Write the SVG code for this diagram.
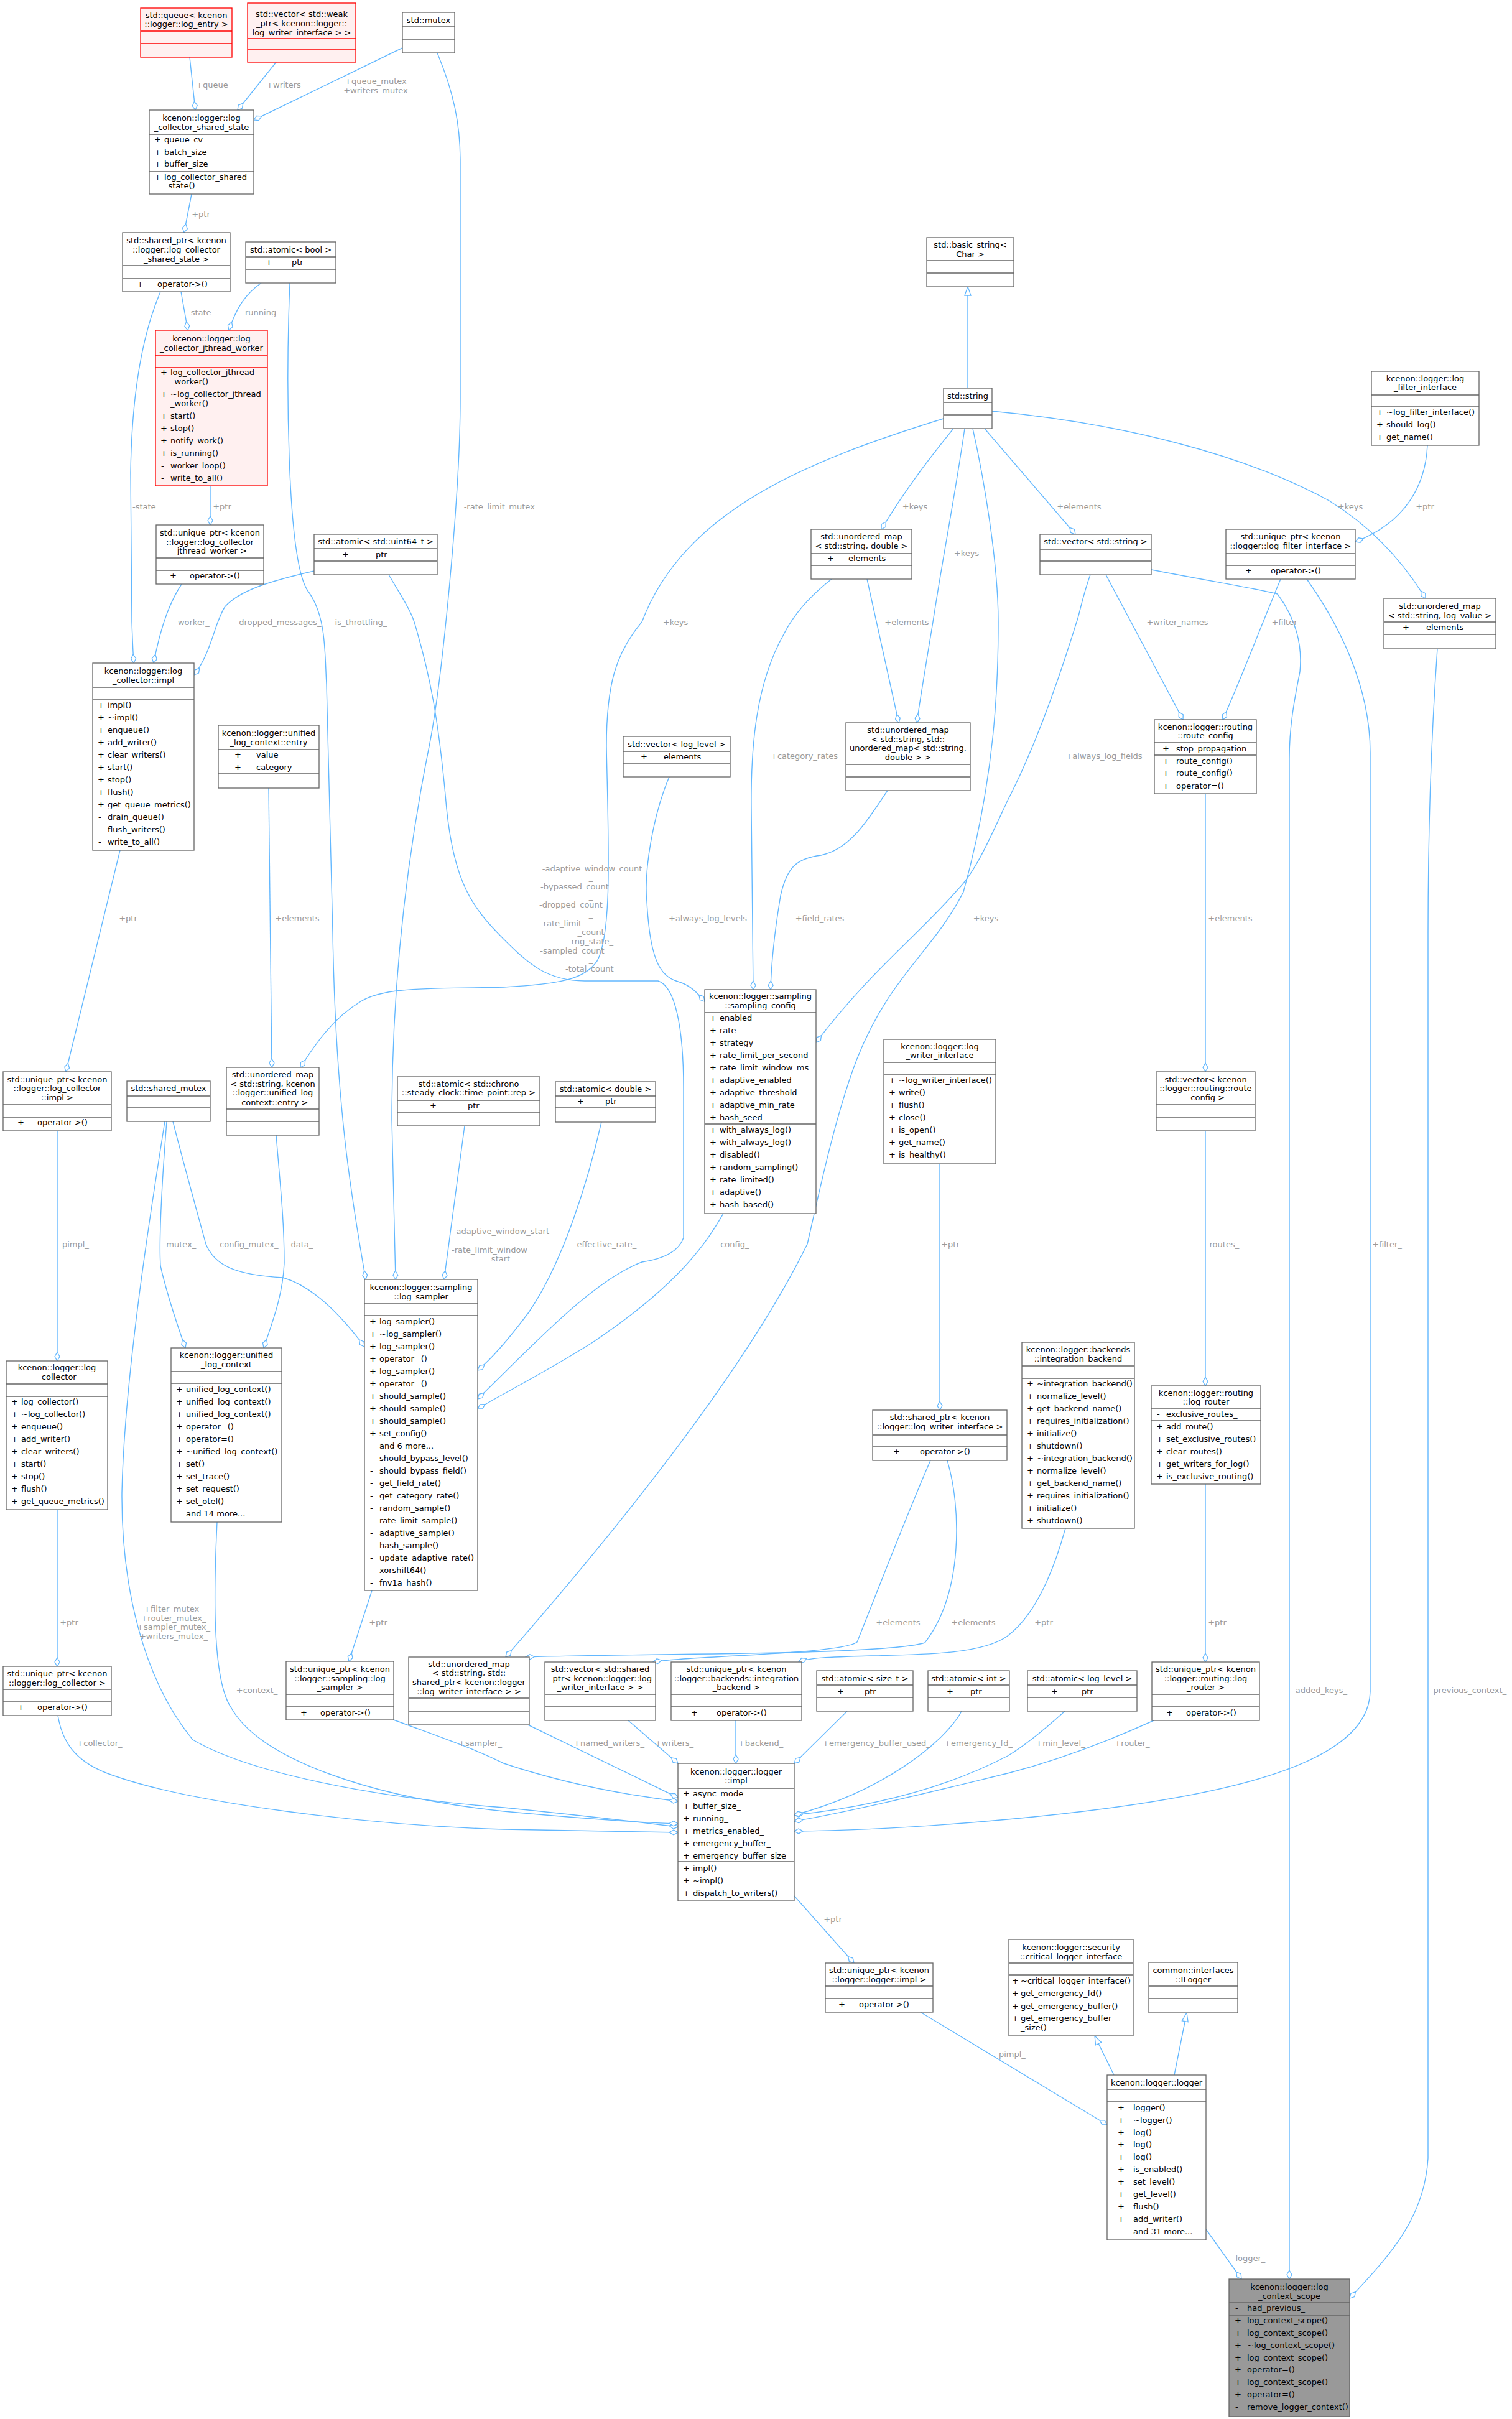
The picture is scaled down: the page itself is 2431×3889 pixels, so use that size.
<svg xmlns="http://www.w3.org/2000/svg" width="2431" height="3889" viewBox="0 0 2431 3889">
<style>
text{font-family:"DejaVu Sans","Liberation Sans",sans-serif;font-size:13px;fill:#000}
.c{text-anchor:middle}
.l{fill:#9a9a9a;text-anchor:middle}
rect{fill:#fff;stroke:#666;stroke-width:1.3}
rect.r{fill:#fff0f0;stroke:#f00}
rect.g{fill:#999}
.dv{stroke:#666;stroke-width:1.3}
.dr{stroke:#f00;stroke-width:1.3}
#edges path{fill:none;stroke:#63b8ff;stroke-width:1.4}
.a{marker-end:url(#dm)}
.i{marker-end:url(#tr)}
</style>
<defs>
<marker id="dm" markerWidth="18" markerHeight="12" refX="15" refY="6" orient="auto" markerUnits="userSpaceOnUse"><path d="M1,6 L8,2 L15,6 L8,10 Z" fill="#fff" stroke="#63b8ff" stroke-width="1.3"/></marker>
<marker id="tr" markerWidth="18" markerHeight="12" refX="15" refY="6" orient="auto" markerUnits="userSpaceOnUse"><path d="M1,1 L15,6 L1,11 Z" fill="#fff" stroke="#63b8ff" stroke-width="1.3"/></marker>
</defs>
<rect x="0" y="0" width="2431" height="3889" style="fill:#fff;stroke:none"/>
<g id="edges">
<path class="a" d="M305,92 L314,177"/>
<path class="a" d="M444,100 L382,177"/>
<path class="a" d="M647,77 L408,193"/>
<path class="a" d="M308,312 L296,374"/>
<path class="a" d="M291,469 L302,531"/>
<path class="a" d="M420,455 C395,472 380,495 368,531"/>
<path class="a" d="M338,781 L338,844"/>
<path class="a" d="M258,469 C232,530 212,620 210,760 L212,1000 C213,1030 214,1050 215,1066"/>
<path class="a" d="M292,939 C275,965 260,1000 247,1066"/>
<path class="a" d="M505,918 C430,935 385,950 362,975 C345,1000 340,1050 312,1085"/>
<path class="a" d="M466,455 C460,600 460,900 495,950 C525,990 522,1050 525,1100 L535,1500 C540,1800 570,1950 588,2057"/>
<path class="a" d="M703,85 C730,150 740,200 740,260 L740,640 C740,800 710,1100 690,1200 C650,1400 630,1600 630,1800 L636,2057"/>
<path class="a" d="M625,924 C640,950 660,980 666,1000 C690,1080 705,1150 718,1300 C730,1420 760,1460 810,1510 C850,1550 880,1577 940,1577 L1058,1577 C1085,1585 1099,1650 1099,1750 L1099,1990 C1090,2015 1060,2025 1032,2029 C950,2060 850,2170 768,2249"/>
<path class="a" d="M1517,673 C1300,740 1100,820 1032,1000 C990,1050 975,1100 975,1200 C978,1350 985,1500 960,1545 C940,1575 900,1582 810,1587 C700,1590 620,1585 580,1610 C530,1640 500,1690 483,1716"/>
<path class="a" d="M193,1367 L106,1723"/>
<path class="a" d="M432,1267 L437,1716"/>
<path class="a" d="M1533,689 C1500,730 1460,780 1417,851"/>
<path class="a" d="M1551,689 C1535,800 1515,900 1500,1000 C1490,1060 1480,1120 1474,1162"/>
<path class="a" d="M1394,931 L1445,1162"/>
<path class="a" d="M1337,931 C1300,960 1275,990 1260,1020 C1215,1100 1207,1200 1208,1300 L1211,1591"/>
<path class="a" d="M1427,1271 C1400,1310 1370,1365 1320,1375 C1280,1380 1265,1395 1255,1440 C1245,1500 1240,1550 1239,1591"/>
<path class="a" d="M1076,1249 C1050,1310 1035,1400 1040,1450 C1045,1540 1060,1570 1090,1578 C1110,1584 1120,1595 1133,1610"/>
<path class="a" d="M1753,924 C1740,960 1735,990 1731,1000 C1700,1100 1660,1210 1620,1287 C1595,1340 1570,1400 1540,1430 C1480,1500 1400,1560 1312,1676"/>
<path class="a" d="M1583,689 L1729,859"/>
<path class="a" d="M1595,661 C1800,680 2000,730 2137,805 C2210,850 2260,910 2292,962"/>
<path class="a" d="M2295,716 C2292,780 2260,840 2179,871"/>
<path class="a" d="M1778,924 L1902,1157"/>
<path class="a" d="M2059,931 C2030,1000 2000,1080 1966,1157"/>
<path class="a" d="M1851,916 C1950,935 2040,950 2054,955 C2080,990 2095,1030 2090,1080 C2080,1130 2073,1170 2073,1220 L2073,3664"/>
<path class="a" d="M2101,931 C2150,1000 2203,1100 2203,1210 L2203,2720 C2200,2830 2000,2890 1620,2925 C1480,2938 1380,2943 1277,2944"/>
<path class="a" d="M2311,1043 C2300,1200 2296,1350 2296,1500 L2296,3470 C2290,3570 2230,3630 2170,3695"/>
<path class="a" d="M1938,1276 L1938,1723"/>
<path class="a" d="M1938,1818 L1938,2228"/>
<path class="a" d="M1938,2386 L1938,2672"/>
<path class="a" d="M1855,2766 C1780,2800 1700,2830 1620,2851 C1500,2880 1380,2910 1277,2928"/>
<path class="a" d="M1712,2751 C1680,2780 1650,2805 1620,2823 C1520,2875 1400,2905 1277,2918"/>
<path class="a" d="M1713,2457 C1690,2540 1660,2600 1620,2630 C1580,2660 1480,2660 1400,2662 C1330,2664 1300,2665 1284,2672"/>
<path class="a" d="M1511,1871 L1511,2267"/>
<path class="a" d="M1496,2348 C1460,2430 1410,2560 1378,2640 C1350,2660 1100,2662 1050,2672"/>
<path class="a" d="M1523,2348 C1545,2420 1550,2560 1487,2641 C1420,2662 1000,2658 845,2664"/>
<path class="a" d="M1564,689 C1580,760 1605,900 1605,1000 C1605,1100 1600,1250 1549,1434 C1500,1530 1430,1570 1378,1702 C1340,1800 1310,1950 1298,2000 C1200,2200 1000,2450 813,2664"/>
<path class="a" d="M92,1818 L92,2188"/>
<path class="a" d="M92,2427 L92,2679"/>
<path class="a" d="M93,2758 C100,2800 120,2830 170,2850 C300,2900 600,2935 810,2941 L1090,2946"/>
<path class="a" d="M278,1803 C295,1870 320,1960 331,2000 C345,2035 380,2050 455,2054 C510,2070 560,2130 586,2165"/>
<path class="a" d="M268,1803 C262,1880 255,1980 258,2035 C268,2080 285,2130 298,2167"/>
<path class="a" d="M265,1803 C250,1900 200,2200 196,2400 C195,2550 230,2700 310,2797 C400,2850 600,2890 810,2906 C950,2920 1030,2930 1090,2937"/>
<path class="a" d="M444,1825 C450,1900 457,1960 457,2030 C455,2080 440,2120 424,2167"/>
<path class="a" d="M349,2447 C344,2550 340,2700 372,2746 C420,2830 600,2890 810,2912 C950,2925 1030,2930 1090,2932"/>
<path class="a" d="M747,1810 L714,2057"/>
<path class="a" d="M967,1804 C945,1900 905,2030 850,2110 C820,2150 790,2185 768,2203"/>
<path class="a" d="M1163,1951 C1140,1990 1100,2060 950,2160 C870,2210 800,2245 768,2265"/>
<path class="a" d="M598,2557 L561,2671"/>
<path class="a" d="M633,2765 C700,2790 760,2810 810,2835 C900,2865 1000,2885 1090,2896"/>
<path class="a" d="M849,2773 L1090,2890"/>
<path class="a" d="M1010,2766 L1090,2835"/>
<path class="a" d="M1183,2766 L1183,2835"/>
<path class="a" d="M1362,2751 L1277,2835"/>
<path class="a" d="M1546,2751 C1520,2800 1420,2880 1277,2918"/>
<path class="a" d="M1277,3048 L1373,3156"/>
<path class="a" d="M1480,3235 L1780,3416"/>
<path class="a" d="M1939,3584 L1996,3664"/>
<path class="i" d="M1791,3336 L1760,3273"/>
<path class="i" d="M1888,3336 L1908,3236"/>
<path class="i" d="M1556,624 L1556,461"/>
</g>
<g id="labels">
<text class="l" x="341" y="141">+queue</text>
<text class="l" x="456" y="141">+writers</text>
<text class="l" x="604" y="135">+queue_mutex</text>
<text class="l" x="604" y="150">+writers_mutex</text>
<text class="l" x="323" y="349">+ptr</text>
<text class="l" x="324" y="507">-state_</text>
<text class="l" x="420" y="507">-running_</text>
<text class="l" x="357" y="819">+ptr</text>
<text class="l" x="235" y="819">-state_</text>
<text class="l" x="806" y="819">-rate_limit_mutex_</text>
<text class="l" x="309" y="1005">-worker_</text>
<text class="l" x="448" y="1005">-dropped_messages_</text>
<text class="l" x="578" y="1005">-is_throttling_</text>
<text class="l" x="1086" y="1005">+keys</text>
<text class="l" x="1458" y="1005">+elements</text>
<text class="l" x="1471" y="819">+keys</text>
<text class="l" x="1554" y="894">+keys</text>
<text class="l" x="1735" y="819">+elements</text>
<text class="l" x="2171" y="819">+keys</text>
<text class="l" x="2291" y="819">+ptr</text>
<text class="l" x="1893" y="1005">+writer_names</text>
<text class="l" x="2065" y="1005">+filter</text>
<text class="l" x="1293" y="1220">+category_rates</text>
<text class="l" x="1775" y="1220">+always_log_fields</text>
<text class="l" x="206" y="1481">+ptr</text>
<text class="l" x="478" y="1481">+elements</text>
<text class="l" x="952" y="1401">-adaptive_window_count</text>
<text class="l" x="950" y="1415">_</text>
<text class="l" x="924" y="1430">-bypassed_count</text>
<text class="l" x="950" y="1445">_</text>
<text class="l" x="918" y="1459">-dropped_count</text>
<text class="l" x="950" y="1474">_</text>
<text class="l" x="902" y="1489">-rate_limit</text>
<text class="l" x="950" y="1503">_count</text>
<text class="l" x="950" y="1518">-rng_state_</text>
<text class="l" x="920" y="1533">-sampled_count</text>
<text class="l" x="950" y="1547">_</text>
<text class="l" x="951" y="1562">-total_count_</text>
<text class="l" x="1138" y="1481">+always_log_levels</text>
<text class="l" x="1318" y="1481">+field_rates</text>
<text class="l" x="1585" y="1481">+keys</text>
<text class="l" x="1978" y="1481">+elements</text>
<text class="l" x="806" y="1984">-adaptive_window_start</text>
<text class="l" x="806" y="1999">_</text>
<text class="l" x="787" y="2014">-rate_limit_window</text>
<text class="l" x="805" y="2028">_start_</text>
<text class="l" x="119" y="2005">-pimpl_</text>
<text class="l" x="289" y="2005">-mutex_</text>
<text class="l" x="398" y="2005">-config_mutex_</text>
<text class="l" x="483" y="2005">-data_</text>
<text class="l" x="973" y="2005">-effective_rate_</text>
<text class="l" x="1179" y="2005">-config_</text>
<text class="l" x="1528" y="2005">+ptr</text>
<text class="l" x="1966" y="2005">-routes_</text>
<text class="l" x="2230" y="2005">+filter_</text>
<text class="l" x="279" y="2591">+filter_mutex_</text>
<text class="l" x="279" y="2606">+router_mutex_</text>
<text class="l" x="279" y="2620">+sampler_mutex_</text>
<text class="l" x="279" y="2635">+writers_mutex_</text>
<text class="l" x="111" y="2613">+ptr</text>
<text class="l" x="608" y="2613">+ptr</text>
<text class="l" x="1444" y="2613">+elements</text>
<text class="l" x="1565" y="2613">+elements</text>
<text class="l" x="1678" y="2613">+ptr</text>
<text class="l" x="1957" y="2613">+ptr</text>
<text class="l" x="413" y="2722">+context_</text>
<text class="l" x="2122" y="2722">-added_keys_</text>
<text class="l" x="2361" y="2722">-previous_context_</text>
<text class="l" x="160" y="2807">+collector_</text>
<text class="l" x="772" y="2807">+sampler_</text>
<text class="l" x="979" y="2807">+named_writers_</text>
<text class="l" x="1084" y="2807">+writers_</text>
<text class="l" x="1223" y="2807">+backend_</text>
<text class="l" x="1409" y="2807">+emergency_buffer_used_</text>
<text class="l" x="1573" y="2807">+emergency_fd_</text>
<text class="l" x="1705" y="2807">+min_level_</text>
<text class="l" x="1820" y="2807">+router_</text>
<text class="l" x="1339" y="3090">+ptr</text>
<text class="l" x="1625" y="3307">-pimpl_</text>
<text class="l" x="2008" y="3635">-logger_</text>
</g>
<g id="n_queue"><rect class="r" x="226" y="13" width="147" height="79"/><text class="c" x="299.5" y="29">std::queue&lt; kcenon</text><text class="c" x="299.5" y="43">::logger::log_entry &gt;</text><path class="dr" d="M226,50H373M226,70H373"/></g>
<g id="n_vecweak"><rect class="r" x="398" y="5" width="174" height="95"/><text class="c" x="485" y="27">std::vector&lt; std::weak</text><text class="c" x="485" y="42">_ptr&lt; kcenon::logger::</text><text class="c" x="485" y="57">log_writer_interface &gt; &gt;</text><path class="dr" d="M398,62H572M398,80H572"/></g>
<g id="n_mutex"><rect x="647" y="20" width="84" height="65"/><text class="c" x="689" y="37">std::mutex</text><path class="dv" d="M647,43H731M647,63H731"/></g>
<g id="n_shared_state"><rect x="240" y="177" width="168" height="135"/><text class="c" x="324" y="194">kcenon::logger::log</text><text class="c" x="324" y="209">_collector_shared_state</text><path class="dv" d="M240,216H408M240,276H408"/><text x="248" y="229">+</text><text x="264" y="229">queue_cv</text><text x="248" y="249">+</text><text x="264" y="249">batch_size</text><text x="248" y="268">+</text><text x="264" y="268">buffer_size</text><text x="248" y="289">+</text><text x="264" y="289">log_collector_shared</text><text x="264" y="303">_state()</text></g>
<g id="n_sp_state"><rect x="197" y="374" width="173" height="95"/><text class="c" x="283.5" y="391">std::shared_ptr&lt; kcenon</text><text class="c" x="283.5" y="406">::logger::log_collector</text><text class="c" x="283.5" y="421">_shared_state &gt;</text><path class="dv" d="M197,427H370M197,448H370"/><text x="220" y="461">+</text><text x="253" y="461">operator-&gt;()</text></g>
<g id="n_atomic_bool"><rect x="395" y="389" width="145" height="66"/><text class="c" x="467.5" y="406">std::atomic&lt; bool &gt;</text><path class="dv" d="M395,413H540M395,433H540"/><text x="427" y="426">+</text><text x="469" y="426">ptr</text></g>
<g id="n_jthread"><rect class="r" x="250" y="531" width="180" height="250"/><text class="c" x="340" y="549">kcenon::logger::log</text><text class="c" x="340" y="564">_collector_jthread_worker</text><path class="dr" d="M250,571H430M250,591H430"/><text x="258" y="603">+</text><text x="274" y="603">log_collector_jthread</text><text x="274" y="618">_worker()</text><text x="258" y="638">+</text><text x="274" y="638">~log_collector_jthread</text><text x="274" y="653">_worker()</text><text x="258" y="673">+</text><text x="274" y="673">start()</text><text x="258" y="693">+</text><text x="274" y="693">stop()</text><text x="258" y="713">+</text><text x="274" y="713">notify_work()</text><text x="258" y="733">+</text><text x="274" y="733">is_running()</text><text x="259" y="753">-</text><text x="274" y="753">worker_loop()</text><text x="259" y="773">-</text><text x="274" y="773">write_to_all()</text></g>
<g id="n_up_jthread"><rect x="251" y="844" width="173" height="95"/><text class="c" x="337.5" y="861">std::unique_ptr&lt; kcenon</text><text class="c" x="337.5" y="876">::logger::log_collector</text><text class="c" x="337.5" y="890">_jthread_worker &gt;</text><path class="dv" d="M251,897H424M251,917H424"/><text x="273" y="930">+</text><text x="305" y="930">operator-&gt;()</text></g>
<g id="n_atomic_u64"><rect x="505" y="859" width="198" height="65"/><text class="c" x="604" y="875">std::atomic&lt; std::uint64_t &gt;</text><path class="dv" d="M505,882H703M505,902H703"/><text x="550" y="896">+</text><text x="604" y="896">ptr</text></g>
<g id="n_lc_impl"><rect x="149" y="1066" width="163" height="301"/><text class="c" x="230.5" y="1083">kcenon::logger::log</text><text class="c" x="230.5" y="1098">_collector::impl</text><path class="dv" d="M149,1105H312M149,1125H312"/>
<text x="157" y="1138">+</text><text x="173" y="1138">impl()</text><text x="157" y="1158">+</text><text x="173" y="1158">~impl()</text><text x="157" y="1178">+</text><text x="173" y="1178">enqueue()</text><text x="157" y="1198">+</text><text x="173" y="1198">add_writer()</text><text x="157" y="1218">+</text><text x="173" y="1218">clear_writers()</text><text x="157" y="1238">+</text><text x="173" y="1238">start()</text><text x="157" y="1258">+</text><text x="173" y="1258">stop()</text><text x="157" y="1278">+</text><text x="173" y="1278">flush()</text><text x="157" y="1298">+</text><text x="173" y="1298">get_queue_metrics()</text><text x="158" y="1318">-</text><text x="173" y="1318">drain_queue()</text><text x="158" y="1338">-</text><text x="173" y="1338">flush_writers()</text><text x="158" y="1358">-</text><text x="173" y="1358">write_to_all()</text></g>
<g id="n_entry"><rect x="351" y="1166" width="162" height="101"/><text class="c" x="432" y="1183">kcenon::logger::unified</text><text class="c" x="432" y="1198">_log_context::entry</text><path class="dv" d="M351,1205H513M351,1244H513"/><text x="377" y="1218">+</text><text x="412" y="1218">value</text><text x="377" y="1238">+</text><text x="412" y="1238">category</text></g>
<g id="n_up_lcimpl"><rect x="5" y="1723" width="174" height="95"/><text class="c" x="92" y="1740">std::unique_ptr&lt; kcenon</text><text class="c" x="92" y="1754">::logger::log_collector</text><text class="c" x="92" y="1769">::impl &gt;</text><path class="dv" d="M5,1776H179M5,1796H179"/><text x="28" y="1809">+</text><text x="60" y="1809">operator-&gt;()</text></g>
<g id="n_shared_mutex"><rect x="204" y="1738" width="134" height="65"/><text class="c" x="271" y="1754">std::shared_mutex</text><path class="dv" d="M204,1762H338M204,1781H338"/></g>
<g id="n_map_entry"><rect x="364" y="1716" width="149" height="109"/><text class="c" x="438.5" y="1732">std::unordered_map</text><text class="c" x="438.5" y="1747">&lt; std::string, kcenon</text><text class="c" x="438.5" y="1761">::logger::unified_log</text><text class="c" x="438.5" y="1777">_context::entry &gt;</text><path class="dv" d="M364,1783H513M364,1803H513"/></g>
<g id="n_atomic_chrono"><rect x="639" y="1731" width="229" height="79"/><text class="c" x="753.5" y="1747">std::atomic&lt; std::chrono</text><text class="c" x="753.5" y="1761">::steady_clock::time_point::rep &gt;</text><path class="dv" d="M639,1769H868M639,1788H868"/><text x="691" y="1782">+</text><text x="752" y="1782">ptr</text></g>
<g id="n_vec_level"><rect x="1002" y="1184" width="172" height="65"/><text class="c" x="1088" y="1201">std::vector&lt; log_level &gt;</text><path class="dv" d="M1002,1208H1174M1002,1228H1174"/><text x="1030" y="1221">+</text><text x="1067" y="1221">elements</text></g>
<g id="n_map_map"><rect x="1360" y="1162" width="200" height="109"/><text class="c" x="1460" y="1178">std::unordered_map</text><text class="c" x="1460" y="1193">&lt; std::string, std::</text><text class="c" x="1460" y="1207">unordered_map&lt; std::string,</text><text class="c" x="1460" y="1222">double &gt; &gt;</text><path class="dv" d="M1360,1229H1560M1360,1249H1560"/></g>
<g id="n_sampling_config"><rect x="1133" y="1591" width="179" height="360"/><text class="c" x="1222.5" y="1606">kcenon::logger::sampling</text><text class="c" x="1222.5" y="1621">::sampling_config</text><path class="dv" d="M1133,1628H1312M1133,1807H1312"/>
<text x="1141" y="1641">+</text><text x="1157" y="1641">enabled</text><text x="1141" y="1661">+</text><text x="1157" y="1661">rate</text><text x="1141" y="1681">+</text><text x="1157" y="1681">strategy</text><text x="1141" y="1701">+</text><text x="1157" y="1701">rate_limit_per_second</text><text x="1141" y="1721">+</text><text x="1157" y="1721">rate_limit_window_ms</text><text x="1141" y="1741">+</text><text x="1157" y="1741">adaptive_enabled</text><text x="1141" y="1761">+</text><text x="1157" y="1761">adaptive_threshold</text><text x="1141" y="1781">+</text><text x="1157" y="1781">adaptive_min_rate</text><text x="1141" y="1801">+</text><text x="1157" y="1801">hash_seed</text>
<text x="1141" y="1821">+</text><text x="1157" y="1821">with_always_log()</text><text x="1141" y="1841">+</text><text x="1157" y="1841">with_always_log()</text><text x="1141" y="1861">+</text><text x="1157" y="1861">disabled()</text><text x="1141" y="1881">+</text><text x="1157" y="1881">random_sampling()</text><text x="1141" y="1901">+</text><text x="1157" y="1901">rate_limited()</text><text x="1141" y="1921">+</text><text x="1157" y="1921">adaptive()</text><text x="1141" y="1941">+</text><text x="1157" y="1941">hash_based()</text></g>
<g id="n_atomic_double"><rect x="893" y="1739" width="161" height="65"/><text class="c" x="973.5" y="1755">std::atomic&lt; double &gt;</text><path class="dv" d="M893,1762H1054M893,1781H1054"/><text x="928" y="1775">+</text><text x="973" y="1775">ptr</text></g>
<g id="n_writer_if"><rect x="1421" y="1671" width="180" height="200"/><text class="c" x="1511" y="1687">kcenon::logger::log</text><text class="c" x="1511" y="1701">_writer_interface</text><path class="dv" d="M1421,1708H1601M1421,1727H1601"/>
<text x="1429" y="1741">+</text><text x="1445" y="1741">~log_writer_interface()</text><text x="1429" y="1761">+</text><text x="1445" y="1761">write()</text><text x="1429" y="1781">+</text><text x="1445" y="1781">flush()</text><text x="1429" y="1801">+</text><text x="1445" y="1801">close()</text><text x="1429" y="1821">+</text><text x="1445" y="1821">is_open()</text><text x="1429" y="1841">+</text><text x="1445" y="1841">get_name()</text><text x="1429" y="1861">+</text><text x="1445" y="1861">is_healthy()</text></g>
<g id="n_basic_string"><rect x="1490" y="382" width="140" height="79"/><text class="c" x="1560" y="398">std::basic_string&lt;</text><text class="c" x="1560" y="413">Char &gt;</text><path class="dv" d="M1490,419H1630M1490,439H1630"/></g>
<g id="n_string"><rect x="1517" y="624" width="78" height="65"/><text class="c" x="1556" y="641">std::string</text><path class="dv" d="M1517,647H1595M1517,667H1595"/></g>
<g id="n_map_double"><rect x="1304" y="851" width="162" height="80"/><text class="c" x="1385" y="867">std::unordered_map</text><text class="c" x="1385" y="882">&lt; std::string, double &gt;</text><path class="dv" d="M1304,890H1466M1304,909H1466"/><text x="1330" y="902">+</text><text x="1364" y="902">elements</text></g>
<g id="n_filter_if"><rect x="2205" y="597" width="173" height="119"/><text class="c" x="2291.5" y="613">kcenon::logger::log</text><text class="c" x="2291.5" y="627">_filter_interface</text><path class="dv" d="M2205,635H2378M2205,654H2378"/><text x="2213" y="667">+</text><text x="2229" y="667">~log_filter_interface()</text><text x="2213" y="687">+</text><text x="2229" y="687">should_log()</text><text x="2213" y="707">+</text><text x="2229" y="707">get_name()</text></g>
<g id="n_vec_string"><rect x="1672" y="859" width="179" height="65"/><text class="c" x="1761.5" y="875">std::vector&lt; std::string &gt;</text><path class="dv" d="M1672,883H1851M1672,902H1851"/></g>
<g id="n_up_filter"><rect x="1971" y="851" width="208" height="80"/><text class="c" x="2075" y="867">std::unique_ptr&lt; kcenon</text><text class="c" x="2075" y="882">::logger::log_filter_interface &gt;</text><path class="dv" d="M1971,890H2179M1971,909H2179"/><text x="2002" y="922">+</text><text x="2043" y="922">operator-&gt;()</text></g>
<g id="n_map_logvalue"><rect x="2225" y="962" width="180" height="81"/><text class="c" x="2315" y="979">std::unordered_map</text><text class="c" x="2315" y="994">&lt; std::string, log_value &gt;</text><path class="dv" d="M2225,1000H2405M2225,1020H2405"/><text x="2255" y="1013">+</text><text x="2293" y="1013">elements</text></g>
<g id="n_route_config"><rect x="1856" y="1157" width="164" height="119"/><text class="c" x="1938" y="1173">kcenon::logger::routing</text><text class="c" x="1938" y="1187">::route_config</text><path class="dv" d="M1856,1194H2020M1856,1214H2020"/><text x="1869" y="1208">+</text><text x="1891" y="1208">stop_propagation</text><text x="1869" y="1228">+</text><text x="1891" y="1228">route_config()</text><text x="1869" y="1247">+</text><text x="1891" y="1247">route_config()</text><text x="1869" y="1268">+</text><text x="1891" y="1268">operator=()</text></g>
<g id="n_vec_route"><rect x="1859" y="1723" width="159" height="95"/><text class="c" x="1938.5" y="1740">std::vector&lt; kcenon</text><text class="c" x="1938.5" y="1754">::logger::routing::route</text><text class="c" x="1938.5" y="1769">_config &gt;</text><path class="dv" d="M1859,1776H2018M1859,1796H2018"/></g>
<g id="n_log_collector"><rect x="10" y="2188" width="163" height="239"/><text class="c" x="91.5" y="2203">kcenon::logger::log</text><text class="c" x="91.5" y="2218">_collector</text><path class="dv" d="M10,2225H173M10,2245H173"/>
<text x="18" y="2258">+</text><text x="34" y="2258">log_collector()</text><text x="18" y="2278">+</text><text x="34" y="2278">~log_collector()</text><text x="18" y="2298">+</text><text x="34" y="2298">enqueue()</text><text x="18" y="2318">+</text><text x="34" y="2318">add_writer()</text><text x="18" y="2338">+</text><text x="34" y="2338">clear_writers()</text><text x="18" y="2358">+</text><text x="34" y="2358">start()</text><text x="18" y="2378">+</text><text x="34" y="2378">stop()</text><text x="18" y="2398">+</text><text x="34" y="2398">flush()</text><text x="18" y="2418">+</text><text x="34" y="2418">get_queue_metrics()</text></g>
<g id="n_ulc"><rect x="275" y="2167" width="178" height="280"/><text class="c" x="364" y="2183">kcenon::logger::unified</text><text class="c" x="364" y="2198">_log_context</text><path class="dv" d="M275,2205H453M275,2224H453"/>
<text x="283" y="2238">+</text><text x="299" y="2238">unified_log_context()</text><text x="283" y="2258">+</text><text x="299" y="2258">unified_log_context()</text><text x="283" y="2278">+</text><text x="299" y="2278">unified_log_context()</text><text x="283" y="2298">+</text><text x="299" y="2298">operator=()</text><text x="283" y="2318">+</text><text x="299" y="2318">operator=()</text><text x="283" y="2338">+</text><text x="299" y="2338">~unified_log_context()</text><text x="283" y="2358">+</text><text x="299" y="2358">set()</text><text x="283" y="2378">+</text><text x="299" y="2378">set_trace()</text><text x="283" y="2398">+</text><text x="299" y="2398">set_request()</text><text x="283" y="2418">+</text><text x="299" y="2418">set_otel()</text><text x="299" y="2438">and 14 more...</text></g>
<g id="n_log_sampler"><rect x="586" y="2057" width="182" height="500"/><text class="c" x="677" y="2074">kcenon::logger::sampling</text><text class="c" x="677" y="2089">::log_sampler</text><path class="dv" d="M586,2096H768M586,2115H768"/>
<text x="594" y="2129">+</text><text x="610" y="2129">log_sampler()</text><text x="594" y="2149">+</text><text x="610" y="2149">~log_sampler()</text><text x="594" y="2169">+</text><text x="610" y="2169">log_sampler()</text><text x="594" y="2189">+</text><text x="610" y="2189">operator=()</text><text x="594" y="2209">+</text><text x="610" y="2209">log_sampler()</text><text x="594" y="2229">+</text><text x="610" y="2229">operator=()</text><text x="594" y="2249">+</text><text x="610" y="2249">should_sample()</text><text x="594" y="2269">+</text><text x="610" y="2269">should_sample()</text><text x="594" y="2289">+</text><text x="610" y="2289">should_sample()</text><text x="594" y="2309">+</text><text x="610" y="2309">set_config()</text><text x="610" y="2329">and 6 more...</text>
<text x="595" y="2349">-</text><text x="610" y="2349">should_bypass_level()</text><text x="595" y="2369">-</text><text x="610" y="2369">should_bypass_field()</text><text x="595" y="2389">-</text><text x="610" y="2389">get_field_rate()</text><text x="595" y="2409">-</text><text x="610" y="2409">get_category_rate()</text><text x="595" y="2429">-</text><text x="610" y="2429">random_sample()</text><text x="595" y="2449">-</text><text x="610" y="2449">rate_limit_sample()</text><text x="595" y="2469">-</text><text x="610" y="2469">adaptive_sample()</text><text x="595" y="2489">-</text><text x="610" y="2489">hash_sample()</text><text x="595" y="2509">-</text><text x="610" y="2509">update_adaptive_rate()</text><text x="595" y="2529">-</text><text x="610" y="2529">xorshift64()</text><text x="595" y="2549">-</text><text x="610" y="2549">fnv1a_hash()</text></g>
<g id="n_up_collector"><rect x="5" y="2679" width="174" height="79"/><text class="c" x="92" y="2695">std::unique_ptr&lt; kcenon</text><text class="c" x="92" y="2710">::logger::log_collector &gt;</text><path class="dv" d="M5,2716H179M5,2735H179"/><text x="28" y="2749">+</text><text x="60" y="2749">operator-&gt;()</text></g>
<g id="n_up_sampler"><rect x="460" y="2671" width="173" height="94"/><text class="c" x="546.5" y="2688">std::unique_ptr&lt; kcenon</text><text class="c" x="546.5" y="2703">::logger::sampling::log</text><text class="c" x="546.5" y="2717">_sampler &gt;</text><path class="dv" d="M460,2724H633M460,2744H633"/><text x="483" y="2758">+</text><text x="515" y="2758">operator-&gt;()</text></g>
<g id="n_map_writers"><rect x="657" y="2664" width="194" height="109"/><text class="c" x="754" y="2680">std::unordered_map</text><text class="c" x="754" y="2694">&lt; std::string, std::</text><text class="c" x="754" y="2709">shared_ptr&lt; kcenon::logger</text><text class="c" x="754" y="2724">::log_writer_interface &gt; &gt;</text><path class="dv" d="M657,2730H851M657,2751H851"/></g>
<g id="n_vec_sp_writer"><rect x="876" y="2672" width="178" height="94"/><text class="c" x="965" y="2688">std::vector&lt; std::shared</text><text class="c" x="965" y="2703">_ptr&lt; kcenon::logger::log</text><text class="c" x="965" y="2717">_writer_interface &gt; &gt;</text><path class="dv" d="M876,2724H1054M876,2744H1054"/></g>
<g id="n_up_backend"><rect x="1079" y="2672" width="210" height="94"/><text class="c" x="1184" y="2688">std::unique_ptr&lt; kcenon</text><text class="c" x="1184" y="2703">::logger::backends::integration</text><text class="c" x="1184" y="2717">_backend &gt;</text><path class="dv" d="M1079,2724H1289M1079,2744H1289"/><text x="1111" y="2758">+</text><text x="1152" y="2758">operator-&gt;()</text></g>
<g id="n_atomic_size"><rect x="1313" y="2686" width="155" height="65"/><text class="c" x="1390.5" y="2703">std::atomic&lt; size_t &gt;</text><path class="dv" d="M1313,2709H1468M1313,2729H1468"/><text x="1346" y="2724">+</text><text x="1390" y="2724">ptr</text></g>
<g id="n_atomic_int"><rect x="1492" y="2686" width="131" height="65"/><text class="c" x="1557.5" y="2703">std::atomic&lt; int &gt;</text><path class="dv" d="M1492,2709H1623M1492,2729H1623"/><text x="1522" y="2724">+</text><text x="1560" y="2724">ptr</text></g>
<g id="n_logger_impl"><rect x="1090" y="2835" width="187" height="221"/><text class="c" x="1183.5" y="2853">kcenon::logger::logger</text><text class="c" x="1183.5" y="2867">::impl</text><path class="dv" d="M1090,2875H1277M1090,2993H1277"/>
<text x="1098" y="2888">+</text><text x="1114" y="2888">async_mode_</text><text x="1098" y="2908">+</text><text x="1114" y="2908">buffer_size_</text><text x="1098" y="2928">+</text><text x="1114" y="2928">running_</text><text x="1098" y="2948">+</text><text x="1114" y="2948">metrics_enabled_</text><text x="1098" y="2968">+</text><text x="1114" y="2968">emergency_buffer_</text><text x="1098" y="2988">+</text><text x="1114" y="2988">emergency_buffer_size_</text>
<text x="1098" y="3008">+</text><text x="1114" y="3008">impl()</text><text x="1098" y="3028">+</text><text x="1114" y="3028">~impl()</text><text x="1098" y="3048">+</text><text x="1114" y="3048">dispatch_to_writers()</text></g>
<g id="n_sp_writer"><rect x="1403" y="2267" width="216" height="81"/><text class="c" x="1511" y="2283">std::shared_ptr&lt; kcenon</text><text class="c" x="1511" y="2298">::logger::log_writer_interface &gt;</text><path class="dv" d="M1403,2307H1619M1403,2326H1619"/><text x="1436" y="2338">+</text><text x="1479" y="2338">operator-&gt;()</text></g>
<g id="n_backend"><rect x="1643" y="2158" width="181" height="299"/><text class="c" x="1733.5" y="2174">kcenon::logger::backends</text><text class="c" x="1733.5" y="2189">::integration_backend</text><path class="dv" d="M1643,2196H1824M1643,2216H1824"/>
<text x="1651" y="2229">+</text><text x="1667" y="2229">~integration_backend()</text><text x="1651" y="2249">+</text><text x="1667" y="2249">normalize_level()</text><text x="1651" y="2269">+</text><text x="1667" y="2269">get_backend_name()</text><text x="1651" y="2289">+</text><text x="1667" y="2289">requires_initialization()</text><text x="1651" y="2309">+</text><text x="1667" y="2309">initialize()</text><text x="1651" y="2329">+</text><text x="1667" y="2329">shutdown()</text><text x="1651" y="2349">+</text><text x="1667" y="2349">~integration_backend()</text><text x="1651" y="2369">+</text><text x="1667" y="2369">normalize_level()</text><text x="1651" y="2389">+</text><text x="1667" y="2389">get_backend_name()</text><text x="1651" y="2409">+</text><text x="1667" y="2409">requires_initialization()</text><text x="1651" y="2429">+</text><text x="1667" y="2429">initialize()</text><text x="1651" y="2449">+</text><text x="1667" y="2449">shutdown()</text></g>
<g id="n_log_router"><rect x="1851" y="2228" width="176" height="158"/><text class="c" x="1939" y="2244">kcenon::logger::routing</text><text class="c" x="1939" y="2258">::log_router</text><path class="dv" d="M1851,2265H2027M1851,2284H2027"/><text x="1860" y="2278">-</text><text x="1875" y="2278">exclusive_routes_</text>
<text x="1859" y="2298">+</text><text x="1875" y="2298">add_route()</text><text x="1859" y="2318">+</text><text x="1875" y="2318">set_exclusive_routes()</text><text x="1859" y="2338">+</text><text x="1875" y="2338">clear_routes()</text><text x="1859" y="2358">+</text><text x="1875" y="2358">get_writers_for_log()</text><text x="1859" y="2378">+</text><text x="1875" y="2378">is_exclusive_routing()</text></g>
<g id="n_atomic_level"><rect x="1652" y="2686" width="176" height="65"/><text class="c" x="1740" y="2703">std::atomic&lt; log_level &gt;</text><path class="dv" d="M1652,2709H1828M1652,2729H1828"/><text x="1690" y="2724">+</text><text x="1739" y="2724">ptr</text></g>
<g id="n_up_router"><rect x="1852" y="2672" width="173" height="94"/><text class="c" x="1938.5" y="2688">std::unique_ptr&lt; kcenon</text><text class="c" x="1938.5" y="2703">::logger::routing::log</text><text class="c" x="1938.5" y="2717">_router &gt;</text><path class="dv" d="M1852,2724H2025M1852,2744H2025"/><text x="1875" y="2758">+</text><text x="1907" y="2758">operator-&gt;()</text></g>
<g id="n_up_logger_impl"><rect x="1327" y="3156" width="173" height="79"/><text class="c" x="1413.5" y="3172">std::unique_ptr&lt; kcenon</text><text class="c" x="1413.5" y="3187">::logger::logger::impl &gt;</text><path class="dv" d="M1327,3193H1500M1327,3213H1500"/><text x="1348" y="3227">+</text><text x="1381" y="3227">operator-&gt;()</text></g>
<g id="n_critical"><rect x="1622" y="3118" width="200" height="155"/><text class="c" x="1722" y="3135">kcenon::logger::security</text><text class="c" x="1722" y="3150">::critical_logger_interface</text><path class="dv" d="M1622,3156H1822M1622,3175H1822"/><text x="1627" y="3189">+</text><text x="1641" y="3189">~critical_logger_interface()</text><text x="1627" y="3209">+</text><text x="1641" y="3209">get_emergency_fd()</text><text x="1627" y="3230">+</text><text x="1641" y="3230">get_emergency_buffer()</text><text x="1627" y="3249">+</text><text x="1641" y="3249">get_emergency_buffer</text><text x="1641" y="3264">_size()</text></g>
<g id="n_ilogger"><rect x="1847" y="3155" width="143" height="81"/><text class="c" x="1918.5" y="3172">common::interfaces</text><text class="c" x="1918.5" y="3187">::ILogger</text><path class="dv" d="M1847,3193H1990M1847,3213H1990"/></g>
<g id="n_logger"><rect x="1780" y="3336" width="159" height="265"/><text class="c" x="1859.5" y="3353">kcenon::logger::logger</text><path class="dv" d="M1780,3359H1939M1780,3379H1939"/>
<text x="1797" y="3393">+</text><text x="1822" y="3393">logger()</text><text x="1797" y="3413">+</text><text x="1822" y="3413">~logger()</text><text x="1797" y="3433">+</text><text x="1822" y="3433">log()</text><text x="1797" y="3452">+</text><text x="1822" y="3452">log()</text><text x="1797" y="3472">+</text><text x="1822" y="3472">log()</text><text x="1797" y="3492">+</text><text x="1822" y="3492">is_enabled()</text><text x="1797" y="3512">+</text><text x="1822" y="3512">set_level()</text><text x="1797" y="3532">+</text><text x="1822" y="3532">get_level()</text><text x="1797" y="3552">+</text><text x="1822" y="3552">flush()</text><text x="1797" y="3572">+</text><text x="1822" y="3572">add_writer()</text><text x="1822" y="3592">and 31 more...</text></g>
<g id="n_log_context_scope"><rect class="g" x="1976" y="3664" width="194" height="221"/><text class="c" x="2073" y="3681">kcenon::logger::log</text><text class="c" x="2073" y="3696">_context_scope</text><path class="dv" d="M1976,3702H2170M1976,3722H2170"/><text x="1986" y="3715">-</text><text x="2005" y="3715">had_previous_</text>
<text x="1985" y="3735">+</text><text x="2005" y="3735">log_context_scope()</text><text x="1985" y="3755">+</text><text x="2005" y="3755">log_context_scope()</text><text x="1985" y="3775">+</text><text x="2005" y="3775">~log_context_scope()</text><text x="1985" y="3795">+</text><text x="2005" y="3795">log_context_scope()</text><text x="1985" y="3814">+</text><text x="2005" y="3814">operator=()</text><text x="1985" y="3834">+</text><text x="2005" y="3834">log_context_scope()</text><text x="1985" y="3854">+</text><text x="2005" y="3854">operator=()</text><text x="1986" y="3874">-</text><text x="2005" y="3874">remove_logger_context()</text></g>
</svg>
